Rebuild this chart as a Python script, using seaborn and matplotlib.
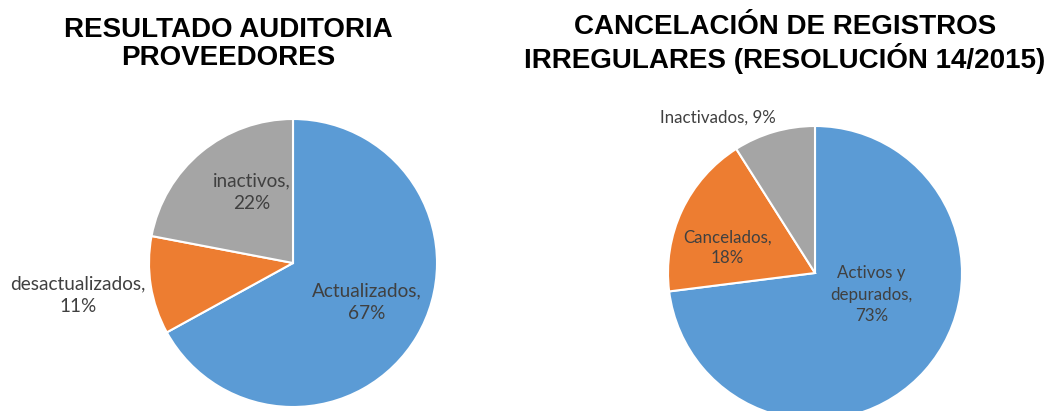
import numpy as np
import matplotlib
matplotlib.use("Agg")
import matplotlib.pyplot as plt
import seaborn as sns

# data
left_title = "RESULTADO AUDITORIA\nPROVEEDORES"
left_labels = ["Actualizados", "desactualizados", "inactivos"]
left_values = [67, 11, 22]

right_title = "CANCELACIÓN DE REGISTROS\nIRREGULARES (RESOLUCIÓN 14/2015)"
right_labels = ["Activos y\ndepurados", "Cancelados", "Inactivados"]
right_values = [73, 18, 9]

# label placement: (distance as fraction of radius, angle in degrees)
left_label_pos = [(0.58, -28), (1.51, 188.5), (0.57, 120)]
right_label_pos = [(0.41, -21), (0.62, 164), (1.25, 122)]
right_one_line = [False, False, True]

sns.set_theme(style="white")
colors = sns.color_palette(["#5B9BD5", "#ED7D31", "#A5A5A5"])
TEXT_COLOR = "#404040"
LABEL_FONT = ["Lato", "DejaVu Sans"]

fig = plt.figure(figsize=(10.5, 4.11), dpi=100)


def draw_pie(rect, values, labels, label_pos, fsize, one_line=None):
    ax = fig.add_axes(rect)
    wedges, _ = ax.pie(values, colors=colors, startangle=90, counterclock=False,
                       radius=1, wedgeprops=dict(edgecolor="white", linewidth=1.5))
    ax.set_xlim(-1, 1)
    ax.set_ylim(-1, 1)
    ax.axis("off")
    total = sum(values)
    for i, (lab, val) in enumerate(zip(labels, values)):
        r, ang = label_pos[i]
        sep = " " if (one_line and one_line[i]) else "\n"
        txt = f"{lab},{sep}{val / total:.0%}"
        ax.text(r * np.cos(np.radians(ang)), r * np.sin(np.radians(ang)), txt,
                ha="center", va="center", fontsize=fsize, color=TEXT_COLOR,
                family=LABEL_FONT, linespacing=1.4, clip_on=False)
    return ax


draw_pie([149 / 1050, 4 / 411, 288 / 1050, 288 / 411],
         left_values, left_labels, left_label_pos, 13.7)
draw_pie([668 / 1050, -9 / 411, 294 / 1050, 294 / 411],
         right_values, right_labels, right_label_pos, 12.2, right_one_line)

for x, title in [(228, left_title), (785, right_title)]:
    fig.text(x / 1050, 1 - 44 / 411, title, ha="center", va="center",
             fontsize=20, fontweight="bold", family="Liberation Sans",
             color="black", linespacing=1.13)

fig.savefig("out.png", dpi=100)
